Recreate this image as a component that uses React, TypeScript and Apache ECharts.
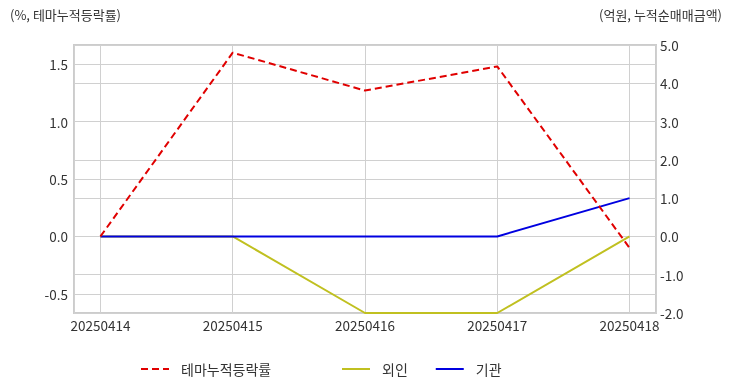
import React, { useEffect, useRef } from "react";
import * as echarts from "echarts";

const categories = ["20250414", "20250415", "20250416", "20250417", "20250418"];
const themeReturn = [0.0, 1.6, 1.27, 1.48, -0.1];
const foreign = [0.0, 0.0, -2.0, -2.0, 0.0];
const institution = [0.0, 0.0, 0.0, 0.0, 1.0];
const leftAxisName = "(%, 테마누적등락률)";
const rightAxisName = "(억원, 누적순매매금액)";

const FONT = "'Noto Sans CJK KR', 'Noto Sans', sans-serif";

export default function App() {
  const ref = useRef<HTMLDivElement>(null);
  useEffect(() => {
    if (!ref.current) return;
    const chart = echarts.init(ref.current, undefined, { renderer: "svg" });
    const toPts = (arr: number[]) => arr.map((v, i) => [i, v]);
    const legendText = {
      fontSize: 14,
      color: "#333",
      fontFamily: FONT,
      padding: [0, 0, 0, 7],
    };
    chart.setOption({
      animation: false,
      textStyle: { fontFamily: FONT },
      grid: {
        left: 74,
        right: 76,
        top: 45,
        bottom: 79,
        show: true,
        borderColor: "#cccccc",
        borderWidth: 2,
      },
      graphic: [
        {
          type: "text",
          left: 10,
          top: 8,
          style: { text: leftAxisName, fill: "#333", font: `13px ${FONT}` },
        },
        {
          type: "text",
          right: 10,
          top: 8,
          style: { text: rightAxisName, fill: "#333", font: `13px ${FONT}` },
        },
      ],
      legend: [
        {
          data: [{ name: "테마누적등락률" }],
          left: 135,
          top: 357,
          itemWidth: 28,
          itemHeight: 14,
          itemStyle: { opacity: 0 },
          textStyle: legendText,
        },
        {
          data: [{ name: "외인" }, { name: "기관" }],
          left: 336,
          top: 357,
          itemWidth: 28,
          itemHeight: 14,
          itemGap: 27,
          itemStyle: { opacity: 0 },
          textStyle: legendText,
        },
      ],
      xAxis: {
        type: "value",
        min: -0.2,
        max: 4.2,
        axisLine: { show: false },
        axisTick: { show: false },
        splitLine: { show: true, lineStyle: { color: "#d0d0d0", width: 1 } },
        axisLabel: {
          showMinLabel: false,
          showMaxLabel: false,
          color: "#333",
          fontSize: 13.5,
          margin: 5,
          formatter: (v: number) => categories[Math.round(v)] ?? "",
        },
      },
      yAxis: [
        {
          type: "value",
          min: -2 / 3,
          max: 5 / 3,
          axisLine: { show: false },
          axisTick: { show: false },
          splitLine: { show: true, lineStyle: { color: "#d0d0d0", width: 1 } },
          axisLabel: {
            showMinLabel: false,
            showMaxLabel: false,
            color: "#333",
            fontSize: 13.5,
            margin: 6,
            formatter: (v: number) => v.toFixed(1),
          },
        },
        {
          type: "value",
          min: -2,
          max: 5,
          interval: 1,
          axisLine: { show: false },
          axisTick: { show: false },
          splitLine: { show: true, lineStyle: { color: "#d0d0d0", width: 1 } },
          axisLabel: {
            color: "#333",
            fontSize: 13.5,
            margin: 4,
            formatter: (v: number) => v.toFixed(1),
          },
        },
      ],
      series: [
        {
          name: "테마누적등락률",
          type: "line",
          yAxisIndex: 0,
          data: toPts(themeReturn),
          symbol: "none",
          z: 4,
          lineStyle: { color: "#e00000", width: 2, type: [7, 4] },
          itemStyle: { color: "#e00000" },
        },
        {
          name: "외인",
          type: "line",
          yAxisIndex: 1,
          data: toPts(foreign),
          symbol: "none",
          z: 2,
          lineStyle: { color: "#c0c020", width: 2 },
          itemStyle: { color: "#c0c020" },
        },
        {
          name: "기관",
          type: "line",
          yAxisIndex: 1,
          data: toPts(institution),
          symbol: "none",
          z: 3,
          lineStyle: { color: "#0000e0", width: 2 },
          itemStyle: { color: "#0000e0" },
        },
      ],
    });
    return () => chart.dispose();
  }, []);
  return (
    <div
      ref={ref}
      style={{ position: "fixed", left: 0, top: 0, width: 732, height: 392 }}
    />
  );
}
